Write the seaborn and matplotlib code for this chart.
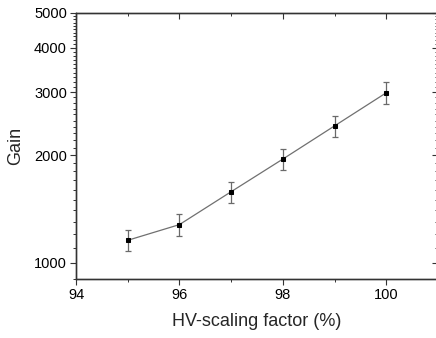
import matplotlib
matplotlib.use("Agg")
import matplotlib.pyplot as plt
import matplotlib.ticker as mticker
import seaborn as sns
import pandas as pd

hv_factor = [95, 96, 97, 98, 99, 100]
gain = [1155, 1278, 1580, 1950, 2415, 2990]
gain_err = [80, 87, 107, 132, 163, 205]

x_major = [94, 96, 98, 100]
x_minor = [95, 97, 99, 101]
y_major = [1000, 2000, 3000, 4000, 5000]
y_minor = [v for v in range(900, 5000, 100) if v % 1000 != 0]

sns.set_style("ticks")
plt.rcParams["font.family"] = ["Liberation Sans", "DejaVu Sans"]

fig = plt.figure(figsize=(4.36, 3.38), dpi=100)
ax = fig.add_axes([76 / 436, 1 - 279 / 338, (438 - 76) / 436, (279 - 13) / 338])

df = pd.DataFrame({"x": hv_factor, "y": gain, "e": gain_err})
ax.errorbar(df["x"], df["y"], yerr=df["e"], fmt="none", ecolor="#6a6a6a",
            elinewidth=0.9, capsize=2.3, capthick=0.9, zorder=2)
sns.lineplot(data=df, x="x", y="y", ax=ax, color="#707070", linewidth=0.9,
             marker="s", markersize=3.5, markerfacecolor="black",
             markeredgecolor="black", zorder=3)

ax.set_yscale("log")
ax.set_xlim(94, 101)
ax.set_ylim(900, 5000)

ax.xaxis.set_major_locator(mticker.FixedLocator(x_major))
ax.xaxis.set_minor_locator(mticker.FixedLocator(x_minor))
ax.xaxis.set_major_formatter(mticker.FixedFormatter([str(v) for v in x_major]))
ax.yaxis.set_major_locator(mticker.FixedLocator(y_major))
ax.yaxis.set_minor_locator(mticker.FixedLocator(y_minor))
ax.yaxis.set_major_formatter(mticker.FixedFormatter([str(v) for v in y_major]))
ax.yaxis.set_minor_formatter(mticker.NullFormatter())

ax.tick_params(which="major", direction="out", length=4.5, width=0.8,
               labelsize=10.5, color="#333333", labelcolor="black", pad=2)
ax.tick_params(which="minor", direction="out", length=2.5, width=0.7, color="#333333")

# mirrored top / right ticks pointing inwards
axt = ax.twiny()
axt.set_xlim(94, 101)
axt.xaxis.set_major_locator(mticker.FixedLocator(x_major))
axt.xaxis.set_minor_locator(mticker.FixedLocator(x_minor))
axt.tick_params(axis="x", which="both", labeltop=False, labelbottom=False,
                top=True, bottom=False)
axt.tick_params(axis="y", which="both", left=False, right=False,
                labelleft=False, labelright=False)

axr = ax.twinx()
axr.set_yscale("log")
axr.set_ylim(900, 5000)
axr.yaxis.set_major_locator(mticker.FixedLocator(y_major))
axr.yaxis.set_minor_locator(mticker.FixedLocator(y_minor))
axr.tick_params(axis="y", which="both", labelleft=False, labelright=False,
                right=True, left=False)
axr.tick_params(axis="x", which="both", top=False, bottom=False,
                labeltop=False, labelbottom=False)

for a in (axt, axr):
    a.tick_params(which="major", direction="in", length=4.5, width=0.8, color="#333333")
    a.tick_params(which="minor", direction="in", length=2.5, width=0.7, color="#333333")
    a.grid(False)

for a in (ax, axt, axr):
    for s in a.spines.values():
        s.set_linewidth(0.9)
        s.set_color("#333333")

ax.set_xlabel("HV-scaling factor (%)", fontsize=13, labelpad=8)
ax.set_ylabel("Gain", fontsize=13, labelpad=7)

fig.savefig("out.png", dpi=100)
